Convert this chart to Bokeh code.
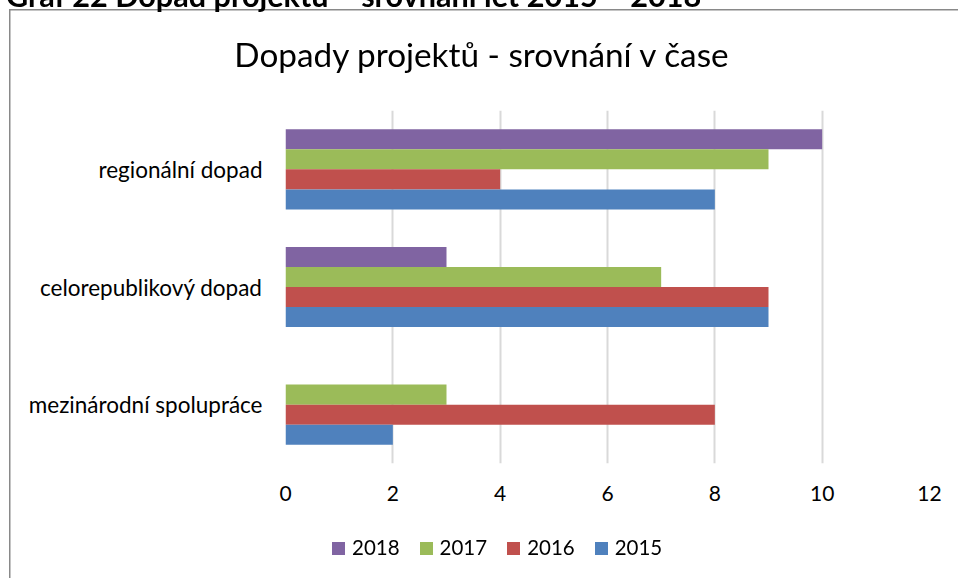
from bokeh.plotting import figure
from bokeh.models import (FactorRange, Range1d, FixedTicker, ColumnDataSource, Div)
from bokeh.transform import dodge
from bokeh.embed import file_html
from bokeh.resources import INLINE

# ---- data ----
categories = ["regionální dopad", "celorepublikový dopad", "mezinárodní spolupráce"]
years = ["2018", "2017", "2016", "2015"]
v2018 = [10, 3, 0]
v2017 = [9, 7, 3]
v2016 = [4, 9, 8]
v2015 = [8, 9, 2]
x_ticks = [0, 2, 4, 6, 8, 10, 12]
chart_title = "Dopady projektů - srovnání v čase"
caption = "Graf 22 Dopad projektů – srovnání let 2015 – 2018"

colors = {"2018": "#8064A2", "2017": "#9BBB59", "2016": "#C0504D", "2015": "#4F81BD"}
offsets = {"2018": 0.2557, "2017": 0.0852, "2016": -0.0852, "2015": -0.2557}
FONT = "Lato"

src = ColumnDataSource(dict(cat=categories, y2018=v2018, y2017=v2017, y2016=v2016, y2015=v2015))

W, H = 958, 578
p = figure(width=W, height=H,
           y_range=FactorRange(factors=categories[::-1]),
           x_range=Range1d(0, 12),
           output_backend="svg", toolbar_location=None,
           min_border_left=285, min_border_right=29,
           min_border_top=110, min_border_bottom=115)
p.styles = {"box-shadow": "inset 9px 9px 0 0 white, inset 10.5px 10.5px 0 0 #898989"}
p.outline_line_color = None
p.background_fill_color = "white"
p.border_fill_color = None

for yr in years:
    p.hbar(y=dodge("cat", offsets[yr], range=p.y_range), left=0, right="y" + yr,
           height=0.1705, fill_color=colors[yr], line_color=None, source=src)

# axes
p.xaxis.ticker = FixedTicker(ticks=x_ticks)
p.xaxis.axis_line_color = None
p.xaxis.major_tick_line_color = None
p.xaxis.minor_tick_line_color = None
p.xaxis.major_label_standoff = 16
p.xaxis.major_label_text_font = FONT
p.xaxis.major_label_text_font_size = "21px"
p.xaxis.major_label_text_color = "black"

p.yaxis.axis_line_color = None
p.yaxis.major_tick_line_color = None
p.yaxis.minor_tick_line_color = None
p.yaxis.major_label_standoff = 17
p.yaxis.major_label_text_font = FONT
p.yaxis.major_label_text_font_size = "22.5px"
p.yaxis.major_label_text_color = "black"

p.xgrid.ticker = FixedTicker(ticks=x_ticks)
p.xgrid.grid_line_color = "#d9d9d9"
p.xgrid.grid_line_width = 2
p.ygrid.grid_line_color = None

# chart title, the (cut-off) document caption and the legend as fixed HTML overlays
title_div = Div(text=('<div style="font-family: Lato; font-size: 33.3px; line-height: 1.2; '
                      'color: black; white-space: nowrap; text-align: center; width: 958px;">'
                      + chart_title + '</div>'),
                styles={"position": "fixed", "left": "-2.5px", "top": "30px", "z-index": "5"})
caption_div = Div(text=('<div style="font-family: Lato; font-weight: bold; font-size: 30.6px; '
                        'line-height: 1.2; color: black; white-space: nowrap;">'
                        + caption + '</div>'),
                  styles={"position": "fixed", "left": "1px", "top": "-27px", "z-index": "5"})

items_html = "".join(
    '<span style="display: inline-block; width: 13px; height: 13px; background: %s; '
    'margin-right: 7px;"></span><span style="margin-right: 20px;">%s</span>' % (colors[yr], yr)
    for yr in years)
legend_div = Div(text=('<div style="display: flex; align-items: center; height: 25px; '
                       'font-family: Lato; font-size: 20.5px; color: black; white-space: nowrap;">'
                       + items_html + '</div>'),
                 styles={"position": "fixed", "left": "327px", "top": "530.5px", "z-index": "5"})

open("out.html", "w").write(file_html([p, title_div, caption_div, legend_div], INLINE))
